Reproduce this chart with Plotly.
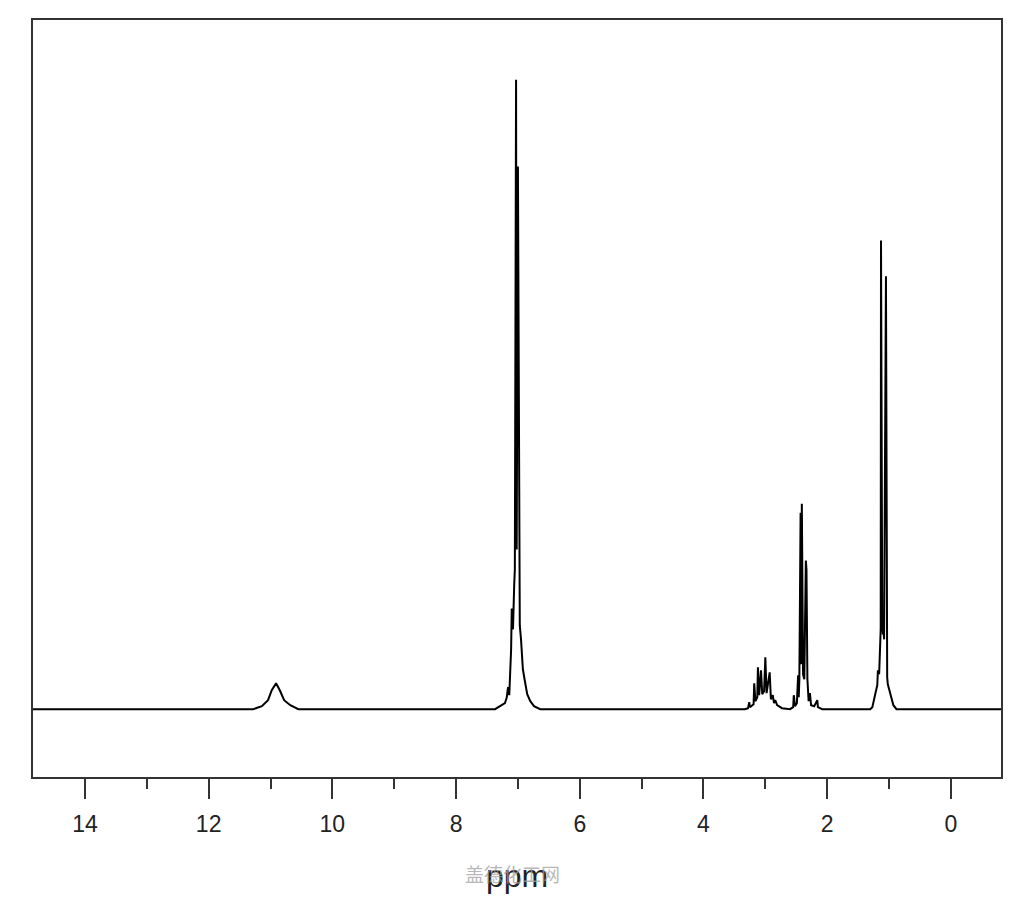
import plotly.graph_objects as go

# Spectrum vertices (chemical shift in ppm, intensity in arbitrary units; baseline = 0)
ppm = [
    14.84,
    11.28, 11.14, 11.04, 10.98, 10.91, 10.85, 10.78, 10.68, 10.55,
    7.37, 7.29, 7.21, 7.18, 7.16, 7.14, 7.13, 7.11, 7.10, 7.08, 7.06, 7.05, 7.03, 7.02, 7.00,
    6.98, 6.97, 6.95, 6.94, 6.92, 6.89, 6.85, 6.80, 6.74, 6.64,
    3.33, 3.28, 3.26, 3.25, 3.19, 3.18, 3.16, 3.13, 3.12, 3.10, 3.07, 3.05, 3.02, 3.00, 2.98,
    2.93, 2.91, 2.88, 2.86, 2.84, 2.81, 2.73, 2.60, 2.55, 2.54, 2.52, 2.49, 2.47, 2.46,
    2.45, 2.43, 2.42, 2.41, 2.39, 2.37, 2.345, 2.335, 2.32, 2.30, 2.28, 2.26, 2.21, 2.16, 2.15, 2.08,
    1.305, 1.27, 1.22, 1.19, 1.18, 1.16, 1.135, 1.13, 1.11, 1.10, 1.09, 1.08, 1.05, 1.04, 1.03,
    1.02, 0.98, 0.93, 0.88,
    -0.81,
]
intensity = [
    0,
    0, 3, 9, 19, 26, 19, 9, 4, 0,
    0, 3, 6, 12, 22, 14, 30, 60, 101, 80, 125, 140, 631, 160, 544,
    130, 84, 70, 60, 40, 29, 15, 8, 3, 0,
    0, 1, 7, 2, 5, 26, 8, 12, 42, 14, 39, 15, 18, 52, 16,
    37, 10, 14, 6, 9, 4, 1, 0, 2, 14, 3, 6, 34, 12,
    30, 197, 45, 206, 35, 30, 149, 140, 30, 8, 16, 4, 3, 9, 2, 0,
    0, 2, 16, 24, 39, 35, 80, 470, 90, 75, 80, 70, 434, 40, 32,
    25, 16, 4, 0,
    0,
]

x_range = [14.84, -0.81]
y_range = [-68, 691]
tick_vals = [14, 12, 10, 8, 6, 4, 2, 0]
tick_text = ["14", "12", "10", "8", "6", "4", "2", "0"]
x_title = "ppm"
watermark = "盖德化工网"

fig = go.Figure()
fig.add_trace(go.Scatter(
    x=ppm, y=intensity, mode="lines",
    line=dict(color="#000000", width=2),
    hoverinfo="skip", showlegend=False,
))

fig.update_layout(
    width=1024, height=900,
    margin=dict(l=25, r=31, t=10, b=131),
    paper_bgcolor="white", plot_bgcolor="white",
    xaxis=dict(
        range=x_range, autorange=False,
        tickmode="array", tickvals=tick_vals, ticktext=tick_text,
        ticks="outside", ticklen=20, tickwidth=2, tickcolor="#333333",
        minor=dict(dtick=1, tick0=0, ticks="outside", ticklen=10, tickwidth=2, tickcolor="#333333", showgrid=False),
        showgrid=False, zeroline=False,
        showline=True, mirror=True, linecolor="#333333", linewidth=2,
        tickfont=dict(family="Liberation Sans, Arial, sans-serif", size=23, color="#222222"),
        ticklabelstandoff=5,
    ),
    yaxis=dict(
        range=y_range, autorange=False,
        showticklabels=False, ticks="", showgrid=False, zeroline=False,
        showline=True, mirror=True, linecolor="#333333", linewidth=2,
    ),
    annotations=[
        dict(text=x_title, xref="paper", yref="paper", x=(517 - 33) / 968, y=-(876 - 777) / 759,
             xanchor="center", yanchor="middle", showarrow=False,
             font=dict(family="Liberation Sans, Arial, sans-serif", size=32, color="#222222")),
        dict(text=watermark, xref="paper", yref="paper", x=(512 - 33) / 968, y=-(874 - 777) / 759,
             xanchor="center", yanchor="middle", showarrow=False,
             font=dict(family="Noto Sans CJK SC, sans-serif", size=19, color="rgba(160,160,160,0.75)")),
    ],
)

fig.write_html("out.html")
